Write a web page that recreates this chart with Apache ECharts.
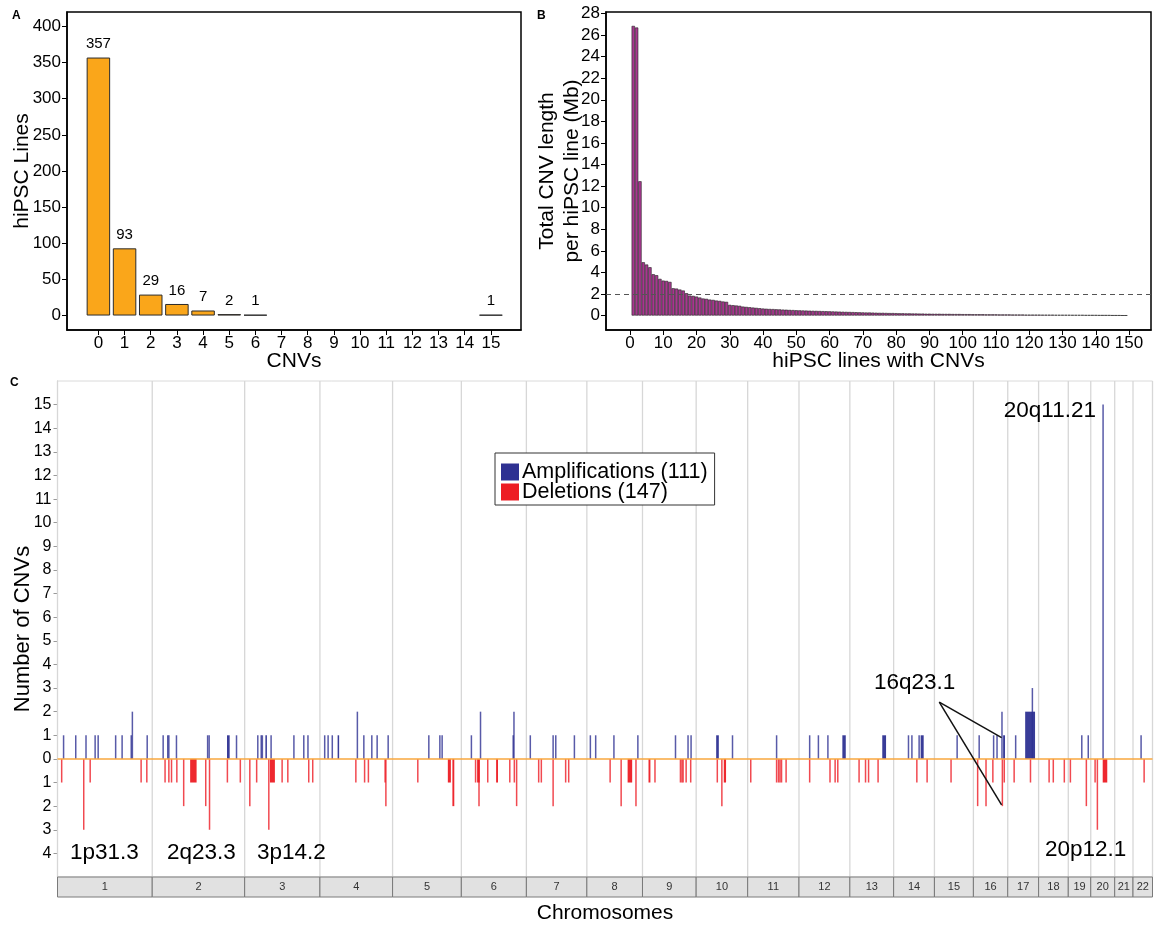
<!DOCTYPE html>
<html>
<head>
<meta charset="utf-8">
<script src="https://cdn.jsdelivr.net/npm/echarts@6.0.0/dist/echarts.min.js"></script>
<style>
  html, body { margin: 0; padding: 0; background: #fff; }
  #main { width: 1155px; height: 927px; }
</style>
</head>
<body>
<div id="main"></div>
<script>
// ---- panel A : CNVs per line ----
var cnvCounts = [0, 1, 2, 3, 4, 5, 6, 7, 8, 9, 10, 11, 12, 13, 14, 15];
var hipscLines = [357, 93, 29, 16, 7, 2, 1, 0, 0, 0, 0, 0, 0, 0, 0, 1];
var aTicksY = [0, 50, 100, 150, 200, 250, 300, 350, 400];

// ---- panel B : total CNV length per line (Mb), lines ranked 1..149 ----
var cnvLengthMb = [
    26.85, 26.7, 12.45, 4.94, 4.73, 4.48, 3.83, 3.74, 3.4, 3.24,
    3.21, 3.12, 2.53, 2.5, 2.41, 2.32, 2.07, 1.85, 1.82, 1.76,
    1.67, 1.58, 1.55, 1.48, 1.45, 1.39, 1.36, 1.3, 1.27, 0.99,
    0.96, 0.93, 0.9, 0.83, 0.8, 0.77, 0.74, 0.71, 0.68, 0.65,
    0.63, 0.61, 0.6, 0.58, 0.57, 0.55, 0.54, 0.52, 0.51, 0.49,
    0.48, 0.47, 0.46, 0.45, 0.44, 0.43, 0.42, 0.41, 0.4, 0.39,
    0.38, 0.37, 0.36, 0.35, 0.34, 0.33, 0.32, 0.31, 0.3, 0.29,
    0.28, 0.28, 0.27, 0.26, 0.25, 0.25, 0.24, 0.23, 0.23, 0.22,
    0.21, 0.21, 0.2, 0.2, 0.19, 0.19, 0.18, 0.18, 0.17, 0.17,
    0.16, 0.16, 0.16, 0.15, 0.15, 0.15, 0.14, 0.14, 0.14, 0.13,
    0.13, 0.13, 0.12, 0.12, 0.12, 0.12, 0.11, 0.11, 0.11, 0.11,
    0.1, 0.1, 0.1, 0.1, 0.09, 0.09, 0.09, 0.09, 0.08, 0.08,
    0.08, 0.08, 0.08, 0.07, 0.07, 0.07, 0.07, 0.06, 0.06, 0.06,
    0.06, 0.06, 0.05, 0.05, 0.05, 0.05, 0.04, 0.04, 0.04, 0.04,
    0.03, 0.03, 0.03, 0.03, 0.02, 0.02, 0.02, 0.01, 0.01
];
var bTicksX = [0, 10, 20, 30, 40, 50, 60, 70, 80, 90, 100, 110, 120, 130, 140, 150];
var bTicksY = [0, 2, 4, 6, 8, 10, 12, 14, 16, 18, 20, 22, 24, 26, 28];
var bThreshold = 2;

// ---- panel C : CNVs along the genome ----
var chromosomes = ['1', '2', '3', '4', '5', '6', '7', '8', '9', '10', '11',
    '12', '13', '14', '15', '16', '17', '18', '19', '20', '21', '22'];
var chromLengthMb = [249.25, 243.2, 198.02, 191.15, 180.92, 171.12, 159.14, 146.36,
    141.21, 135.53, 135.01, 133.85, 115.17, 107.35, 102.53, 90.35, 81.2, 78.08,
    59.13, 63.03, 48.13, 51.3];
var cTicksY = [-4, -3, -2, -1, 0, 1, 2, 3, 4, 5, 6, 7, 8, 9, 10, 11, 12, 13, 14, 15];

// [start Mb, end Mb, count] in genome coordinates
var amplifications = [
    [16, 16, 1], [48, 48, 1], [74, 76, 1], [99, 99, 1], [107, 107, 1], [153, 153, 1], [170, 170, 1],
    [194, 194, 1], [196, 198, 2], [236, 236, 1],
    [278, 278, 1], [290, 290, 1], [293, 293, 1], [313, 313, 1], [395, 395, 1], [399, 399, 1],
    [446, 453, 1], [471, 471, 1],
    [527, 527, 1], [536, 536, 1], [539, 539, 1], [547, 551, 1], [562, 562, 1], [622, 622, 1],
    [648, 648, 1], [659, 659, 1],
    [703, 703, 1], [712, 712, 1], [723, 723, 1], [737, 741, 1], [789, 789, 2], [806, 806, 1],
    [827, 827, 1], [841, 841, 1], [870, 870, 1],
    [977, 977, 1], [1006, 1006, 1], [1012, 1012, 1],
    [1089, 1089, 1], [1113, 1113, 2], [1199, 1199, 1], [1201, 1201, 2],
    [1244, 1244, 1], [1304, 1304, 1], [1311, 1311, 1], [1360, 1360, 1],
    [1402, 1402, 1], [1416, 1416, 1],
    [1464, 1464, 1], [1527, 1527, 1],
    [1626, 1626, 1], [1659, 1659, 1], [1667, 1667, 1],
    [1733, 1740, 1], [1776, 1776, 1],
    [1892, 1892, 1],
    [1979, 1979, 1], [2002, 2002, 1], [2027, 2027, 1], [2065, 2074, 1],
    [2170, 2180, 1],
    [2239, 2239, 1], [2248, 2248, 1], [2267, 2267, 1], [2271, 2279, 1],
    [2367, 2367, 1],
    [2425, 2425, 1], [2463, 2463, 1], [2472, 2472, 1], [2485, 2485, 2], [2488, 2493, 1],
    [2521, 2521, 1], [2546, 2572, 2], [2565, 2565, 3],
    [2695, 2695, 1], [2712, 2712, 1],
    [2750, 2752, 15],
    [2851, 2851, 1]
];
var deletions = [
    [11, 11, 1], [69, 69, 3], [86, 86, 1], [220, 220, 1], [235, 235, 1],
    [283, 283, 1], [293, 293, 1], [300, 300, 1], [314, 314, 1], [332, 332, 2], [349, 366, 1],
    [390, 390, 2], [400, 400, 3], [447, 447, 1], [481, 481, 1],
    [506, 506, 2], [524, 524, 1], [556, 556, 3], [559, 572, 1], [591, 591, 1], [606, 606, 1],
    [661, 661, 1], [670, 673, 1],
    [785, 785, 1], [808, 808, 1], [818, 818, 1], [862, 862, 1], [864, 864, 2],
    [948, 948, 1],
    [1027, 1035, 1], [1039, 1044, 2], [1100, 1100, 1], [1104, 1111, 1], [1109, 1109, 2],
    [1132, 1132, 1], [1154, 1159, 1],
    [1190, 1190, 1], [1202, 1202, 1], [1208, 1208, 2],
    [1266, 1266, 1], [1273, 1273, 1], [1304, 1304, 2], [1337, 1337, 1], [1345, 1345, 1],
    [1454, 1454, 1], [1483, 1483, 2], [1500, 1512, 1], [1522, 1522, 2], [1555, 1560, 1],
    [1572, 1572, 1],
    [1639, 1639, 1], [1643, 1643, 1], [1646, 1646, 1], [1654, 1654, 1], [1666, 1666, 1],
    [1736, 1736, 1], [1748, 1748, 2], [1753, 1759, 1],
    [1824, 1824, 1], [1892, 1892, 1], [1897, 1897, 1], [1901, 1901, 1], [1905, 1905, 1],
    [1917, 1917, 1],
    [1979, 1979, 1], [2031, 2034, 1], [2046, 2046, 1], [2053, 2053, 1],
    [2109, 2109, 1], [2126, 2126, 1], [2134, 2134, 1], [2159, 2159, 1],
    [2261, 2261, 1], [2288, 2288, 1], [2351, 2351, 1],
    [2421, 2421, 2], [2443, 2443, 2], [2460, 2462, 1], [2486, 2486, 2], [2491, 2491, 1],
    [2517, 2517, 1], [2560, 2560, 1],
    [2609, 2609, 1], [2620, 2620, 1], [2649, 2649, 1], [2665, 2665, 1],
    [2707, 2707, 2], [2730, 2730, 1], [2736, 2736, 3], [2750, 2762, 1],
    [2859, 2859, 1]
];

// 16q23.1 pointer: [genome Mb, count] from label to the two bars
var pointer16q = [[2320, 2.4], [2484, 0.9], [2484, -1.95]];

var FONT = '"Liberation Sans", Arial, Helvetica, sans-serif';

// chromosome start positions
var chromStart = [];
var acc = 0;
for (var i = 0; i < chromLengthMb.length; i++) {
    chromStart.push(acc);
    acc += chromLengthMb[i];
}
var genomeLength = acc;
var boundaries = chromStart.concat([genomeLength]);

function cnvBar(sign) {
    return function (params, api) {
        var b0 = api.coord([api.value(0), 0]);
        var b1 = api.coord([api.value(1), 0]);
        var tp = api.coord([api.value(0), sign * api.value(2)]);
        var x = b0[0], w = b1[0] - b0[0];
        var thin = w < 1.5;
        if (thin) {
            x = (b0[0] + b1[0]) / 2 - 0.75;
            w = 1.5;
        }
        return {
            type: 'rect',
            shape: { x: x, y: Math.min(b0[1], tp[1]), width: w, height: Math.abs(tp[1] - b0[1]) },
            style: { fill: api.visual('color'), opacity: thin ? 0.8 : 0.95 }
        };
    };
}

function note(txt, x, y, align, size, weight) {
    return {
        type: 'text', x: x, y: y, z: 100,
        style: {
            text: txt, font: (weight || '') + ' ' + size + 'px ' + FONT, fill: '#000',
            align: align || 'left', verticalAlign: 'middle'
        }
    };
}

var myChart = echarts.init(document.getElementById('main'));

var blackAxis = { lineStyle: { color: '#000', width: 1.5 }, onZero: false };

var option = {
    animation: false,
    textStyle: { fontFamily: FONT, color: '#000' },
    grid: [
        { left: 67, top: 12, width: 454, height: 318, show: true, borderColor: '#000', borderWidth: 1.5, outerBoundsMode: 'none' },
        { left: 606, top: 12, width: 545, height: 318, show: true, borderColor: '#000', borderWidth: 1.5, outerBoundsMode: 'none' },
        { left: 57.5, top: 381, width: 1095, height: 496, show: true, borderColor: '#dadada', borderWidth: 1, outerBoundsMode: 'none' },
        { left: 57.5, top: 877, width: 1095, height: 20, outerBoundsMode: 'none' }
    ],
    xAxis: [
        {
            gridIndex: 0, type: 'value', min: -1.2, max: 16.15,
            axisLine: blackAxis,
            axisTick: { customValues: cnvCounts, length: 5, lineStyle: { color: '#000' } },
            axisLabel: { customValues: cnvCounts, fontSize: 17, color: '#000', margin: 5 },
            splitLine: { show: false },
            name: 'CNVs', nameLocation: 'middle', nameGap: 21, nameMoveOverlap: false,
            nameTextStyle: { fontSize: 21, color: '#000', verticalAlign: 'top' }
        },
        {
            gridIndex: 1, type: 'value', min: -7.2, max: 156.6,
            axisLine: blackAxis,
            axisTick: { customValues: bTicksX, length: 5, lineStyle: { color: '#000' } },
            axisLabel: { customValues: bTicksX, fontSize: 17, color: '#000', margin: 5 },
            splitLine: { show: false },
            name: 'hiPSC lines with CNVs', nameLocation: 'middle', nameGap: 21, nameMoveOverlap: false,
            nameTextStyle: { fontSize: 21, color: '#000', verticalAlign: 'top' }
        },
        {
            gridIndex: 2, type: 'value', min: 0, max: genomeLength,
            axisLine: { show: false }, axisTick: { show: false }, axisLabel: { show: false },
            splitLine: { show: false }
        },
        {
            gridIndex: 3, type: 'value', min: 0, max: genomeLength,
            axisLine: { show: false }, axisTick: { show: false }, axisLabel: { show: false },
            splitLine: { show: false },
            name: 'Chromosomes', nameLocation: 'middle', nameGap: 6, nameMoveOverlap: false,
            nameTextStyle: { fontSize: 21, color: '#000', verticalAlign: 'top' }
        }
    ],
    yAxis: [
        {
            gridIndex: 0, type: 'value', min: -20, max: 420,
            axisLine: blackAxis,
            axisTick: { customValues: aTicksY, length: 5, lineStyle: { color: '#000' } },
            axisLabel: { customValues: aTicksY, fontSize: 17, color: '#000', margin: 6 },
            splitLine: { show: false },
            name: 'hiPSC Lines', nameLocation: 'middle', nameGap: 34, nameMoveOverlap: false,
            nameTextStyle: { fontSize: 21, color: '#000' }
        },
        {
            gridIndex: 1, type: 'value', min: -1.34, max: 28.14,
            axisLine: blackAxis,
            axisTick: { customValues: bTicksY, length: 5, lineStyle: { color: '#000' } },
            axisLabel: { customValues: bTicksY, fontSize: 17, color: '#000', margin: 6 },
            splitLine: { show: false },
            name: 'Total CNV length\nper hiPSC line (Mb)', nameLocation: 'middle', nameGap: 21, nameMoveOverlap: false,
            nameTextStyle: { fontSize: 21, color: '#000', lineHeight: 25 }
        },
        {
            gridIndex: 2, type: 'value', min: -5, max: 16,
            axisLine: { lineStyle: { color: '#bdbdbd', width: 1 }, onZero: false },
            axisTick: { customValues: cTicksY, length: 4, lineStyle: { color: '#999' } },
            axisLabel: {
                customValues: cTicksY, fontSize: 16, color: '#000', margin: 6,
                formatter: function (v) { return Math.abs(v); }
            },
            splitLine: { show: false },
            name: 'Number of CNVs', nameLocation: 'middle', nameGap: 24, nameMoveOverlap: false,
            nameTextStyle: { fontSize: 22, color: '#000' }
        },
        { gridIndex: 3, type: 'value', min: 0, max: 1, show: false }
    ],
    legend: {
        data: ['Amplifications (111)', 'Deletions (147)'],
        orient: 'vertical', left: 495, top: 453,
        icon: 'rect', itemWidth: 18, itemHeight: 17, itemGap: -2,
        padding: [8, 7, 2, 6],
        borderColor: '#333', borderWidth: 1, backgroundColor: '#fff',
        selectedMode: false,
        textStyle: { fontSize: 21.5, color: '#000', padding: [0, 0, 0, -2] }
    },
    graphic: [
        note('A', 12, 16, 'left', 12, 'bold'),
        note('B', 537, 16, 'left', 12, 'bold'),
        note('C', 10, 383, 'left', 12, 'bold'),
        note('20q11.21', 1096, 411, 'right', 22.5),
        note('16q23.1', 874, 683, 'left', 22.5),
        note('20p12.1', 1045, 850, 'left', 22.5),
        note('1p31.3', 70, 853, 'left', 22.5),
        note('2q23.3', 167, 853, 'left', 22.5),
        note('3p14.2', 257, 853, 'left', 22.5)
    ],
    series: [
        {
            type: 'bar', xAxisIndex: 0, yAxisIndex: 0,
            data: cnvCounts.map(function (c, i) { return [c, hipscLines[i]]; })
                .filter(function (d) { return d[1] > 0; }),
            barWidth: 23.5,
            itemStyle: { color: '#FAA61A', borderColor: '#2b2b2b', borderWidth: 1 },
            label: {
                show: true, position: 'top', distance: 6, fontSize: 15, color: '#000',
                formatter: function (p) { return p.value[1]; }
            }
        },
        {
            type: 'bar', xAxisIndex: 1, yAxisIndex: 1,
            data: cnvLengthMb.map(function (v, i) { return [i + 1, v]; }),
            barWidth: 3.33,
            itemStyle: { color: '#A8378F', borderColor: '#222', borderWidth: 0.6 },
            markLine: {
                silent: true, symbol: 'none', label: { show: false },
                lineStyle: { type: [5, 4], color: '#555', width: 1.2 },
                data: [{ yAxis: bThreshold }]
            }
        },
        {
            type: 'custom', xAxisIndex: 2, yAxisIndex: 2, z: 1, silent: true,
            data: boundaries.map(function (b) { return [b]; }),
            renderItem: function (params, api) {
                var x = api.coord([api.value(0), 0])[0];
                var cs = params.coordSys;
                return {
                    type: 'line',
                    shape: { x1: x, y1: cs.y, x2: x, y2: cs.y + cs.height },
                    style: { stroke: '#d7d7d7', lineWidth: 1.3 }
                };
            }
        },
        {
            name: 'Amplifications (111)', type: 'custom', xAxisIndex: 2, yAxisIndex: 2, z: 2,
            data: amplifications, encode: { x: [0, 1], y: 2 },
            itemStyle: { color: '#2E3192' },
            renderItem: cnvBar(1)
        },
        {
            name: 'Deletions (147)', type: 'custom', xAxisIndex: 2, yAxisIndex: 2, z: 3,
            data: deletions, encode: { x: [0, 1], y: 2 },
            itemStyle: { color: '#ED1C24' },
            renderItem: cnvBar(-1),
            markLine: {
                silent: true, symbol: 'none', label: { show: false },
                data: [
                    { yAxis: 0, lineStyle: { color: '#F9A73E', width: 1.5, type: 'solid' } },
                    [{ coord: pointer16q[0], lineStyle: { color: '#111', width: 1.5, type: 'solid' } }, { coord: pointer16q[1] }],
                    [{ coord: pointer16q[0], lineStyle: { color: '#111', width: 1.5, type: 'solid' } }, { coord: pointer16q[2] }]
                ]
            }
        },
        {
            type: 'custom', xAxisIndex: 3, yAxisIndex: 3, silent: true,
            data: chromStart.map(function (s, i) { return [s, s + chromLengthMb[i]]; }),
            renderItem: function (params, api) {
                var p0 = api.coord([api.value(0), 1]);
                var p1 = api.coord([api.value(1), 0]);
                return {
                    type: 'group',
                    children: [
                        {
                            type: 'rect',
                            shape: { x: p0[0], y: p0[1], width: p1[0] - p0[0], height: p1[1] - p0[1] },
                            style: { fill: '#e1e1e1', stroke: '#7a7a7a', lineWidth: 1 }
                        },
                        {
                            type: 'text', x: (p0[0] + p1[0]) / 2, y: (p0[1] + p1[1]) / 2,
                            style: {
                                text: chromosomes[params.dataIndex], fill: '#333',
                                font: '11px ' + FONT, align: 'center', verticalAlign: 'middle'
                            }
                        }
                    ]
                };
            }
        }
    ]
};

myChart.setOption(option);
</script>
</body>
</html>
